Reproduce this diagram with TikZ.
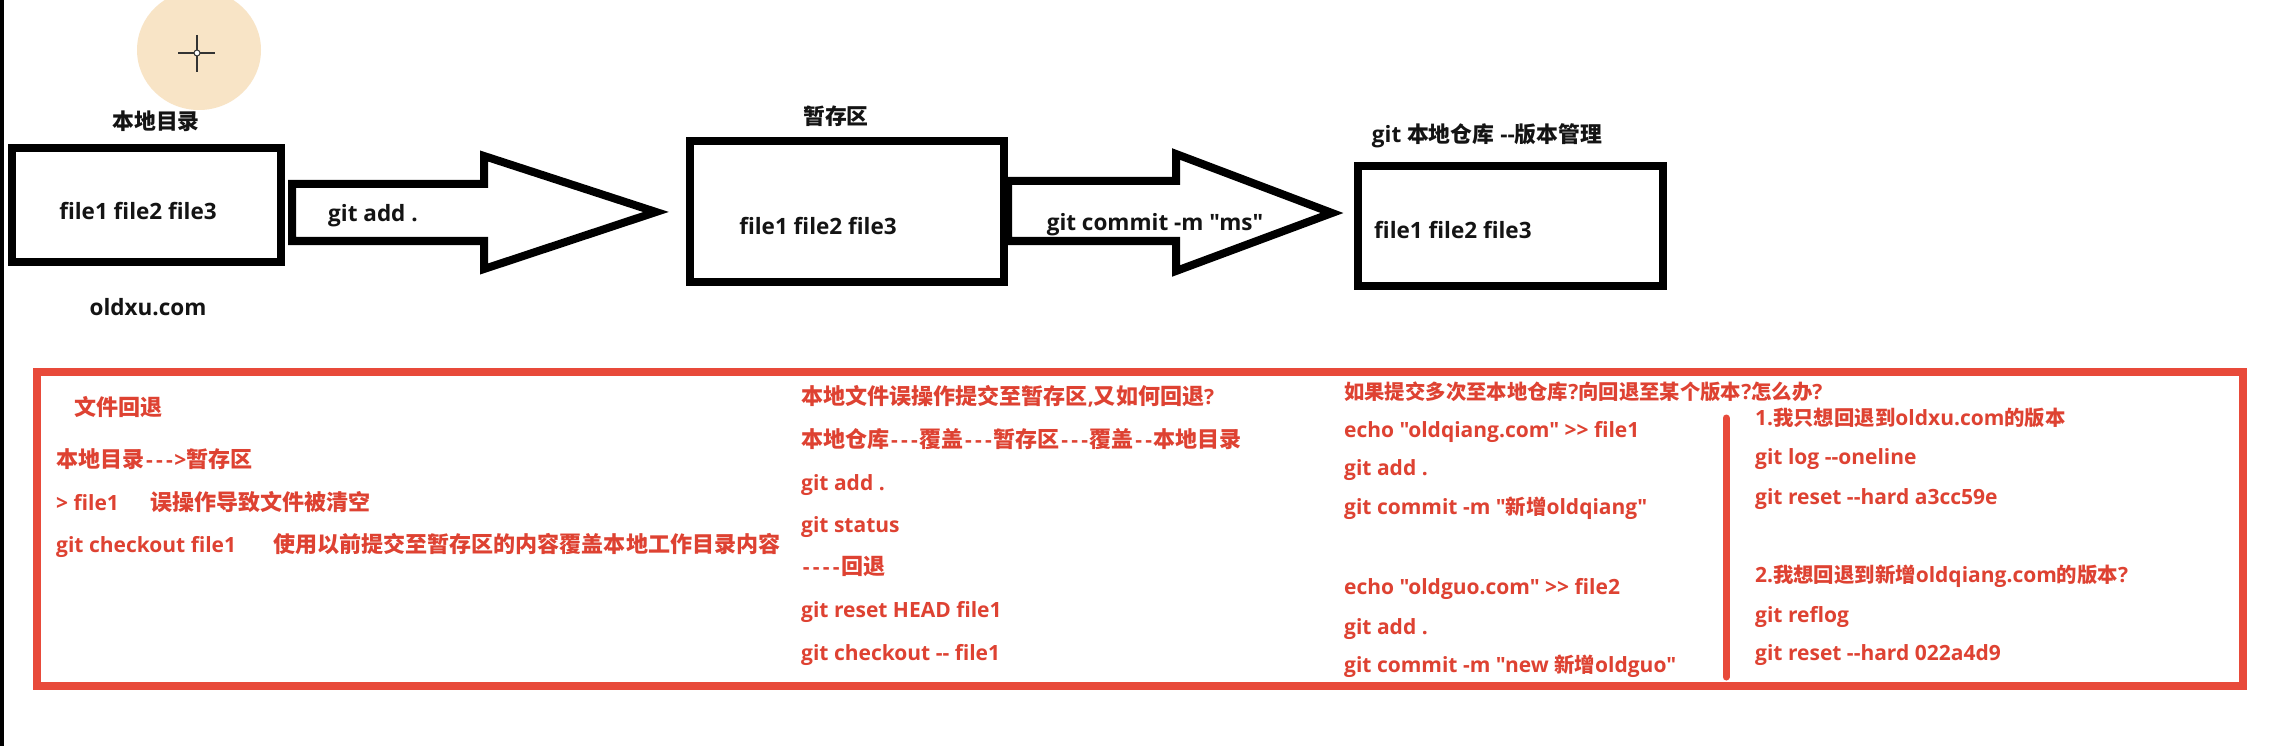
\documentclass[tikz,border=0pt]{standalone}
\usepackage{fontspec}
\setmainfont{Open Sans}[Ligatures=TeXOff]
\newfontfamily\cjk{Noto Sans CJK SC}[Scale=0.97]
\newfontfamily\cjkL{Noto Sans CJK SC}[Scale=1.05]
\newcommand\zh[1]{{\cjk #1}}
\newcommand\zhL[1]{{\cjkL #1}}
\newcommand\hy{\makebox[10pt]{-}}
\definecolor{redframe}{RGB}{232,74,58}
\definecolor{redtext}{RGB}{222,66,50}
\definecolor{cursorbg}{RGB}{248,228,198}
\begin{document}
\begin{tikzpicture}[x=1pt,y=-1pt,
  lbl/.style={anchor=base, inner sep=0, font=\bfseries\fontsize{22.5}{26}\selectfont, text=black!92},
  rtxt/.style={anchor=base west, inner sep=0, font=\bfseries\fontsize{21}{25}\selectfont, text=redtext},
  box/.style={draw=black, line width=8, inner sep=0, fill=white},
  blockarrow/.style={draw=black, line width=8, line join=miter, fill=white}]
\fill[white] (0,0) rectangle (2286,746);
\useasboundingbox (0,0) rectangle (2286,746);
\fill[black] (0,0) rectangle (4,746);
% cursor highlight
\fill[cursorbg] (199,50) ellipse [x radius=62, y radius=60];
\coordinate (cc) at (197,53);
\draw[line width=1.5, black!80] (178,53) -- (215,53) (197,35) -- (197,72);
\draw[line width=1, black!80, fill=white] (cc) circle (3);
% top row
\node[lbl] (l1) at (156,130) {\zh{本地目录}};
\node[box, minimum width=269, minimum height=114] (b1) at (146.5,205) {};
\node[lbl] (f1) at (138,219) {file1 file2 file3};
\node[lbl] (u1) at (148,315) {oldxu.com};
\draw[blockarrow] (292,184) -- (484,184) -- (484,156) -- (656,212) -- (484,269) -- (484,241) -- (292,241) -- cycle;
\node[lbl] (g1) at (373,222) {git add .};
\node[lbl] (l2) at (836,125) {\zh{暂存区}};
\node[box, minimum width=314, minimum height=141] (b2) at (847,211.5) {};
\node[lbl] (f2) at (818,235) {file1 file2 file3};
\draw[blockarrow] (b2.east |- 0,181) -- (1176,181) -- (1176,154) -- (1332,213) -- (1176,271) -- (1176,241) -- (b2.east |- 0,241) -- cycle;
\node[lbl] (g2) at (1155,230) {git commit -m "ms"};
\node[lbl] (l3) at (1487,143) {git \zh{本地仓库} --\zh{版本管理}};
\node[box, minimum width=305, minimum height=120] (b3) at (1510.5,226) {};
\node[lbl, anchor=base west] (f3) at (1374,239) {file1 file2 file3};
% red frame
\node[draw=redframe, line width=8, minimum width=2206, minimum height=314, inner sep=0] (rf) at (1140,529) {};
\coordinate (bt) at (1726,418);
\coordinate (bb) at (1726,677);
\draw[redframe, line width=7, line cap=round] (bt) -- (bb);
% column 1
\node[rtxt] (c1a) at (74,415) {\zhL{文件回退}};
\node[rtxt] (c1b) at (56,467) {\zhL{本地目录}\hy\hy\hy>\zhL{暂存区}};
\node[rtxt] (c1c) at (56,510) {\makebox[94pt][l]{> file1}\zhL{误操作导致文件被清空}};
\node[rtxt] (c1d) at (56,552) {\makebox[217pt][l]{git checkout file1}\zhL{使用以前提交至暂存区的内容覆盖本地工作目录内容}};
% column 2
\node[rtxt] (c2a) at (801,404) {\zhL{本地文件误操作提交至暂存区},\zhL{又如何回退}?};
\node[rtxt] (c2b) at (801,447) {\zhL{本地仓库}\hy\hy\hy\zhL{覆盖}\hy\hy\hy\zhL{暂存区}\hy\hy\hy\zhL{覆盖}\hy\hy\zhL{本地目录}};
\node[rtxt] (c2c) at (801,490) {git add .};
\node[rtxt] (c2d) at (801,532) {git status};
\node[rtxt] (c2e) at (801,574) {\hy\hy\hy\hy\zhL{回退}};
\node[rtxt] (c2f) at (801,617) {git reset HEAD file1};
\node[rtxt] (c2g) at (801,660) {git checkout -- file1};
% column 3
\node[rtxt] (c3a) at (1344,399) {\zh{如果提交多次至本地仓库}?\zh{向回退至某个版本}?\zh{怎么办}?};
\node[rtxt] (c3b) at (1344,437) {echo "oldqiang.com" >> file1};
\node[rtxt] (c3c) at (1344,475) {git add .};
\node[rtxt] (c3d) at (1344,514) {git commit -m "\zh{新增}oldqiang"};
\node[rtxt] (c3e) at (1344,594) {echo "oldguo.com" >> file2};
\node[rtxt] (c3f) at (1344,634) {git add .};
\node[rtxt] (c3g) at (1344,672) {git commit -m "new \zh{新增}oldguo"};
% column 4
\node[rtxt] (c4a) at (1755,425) {1.\zh{我只想回退到}oldxu.com\zh{的版本}};
\node[rtxt] (c4b) at (1755,464) {git log --oneline};
\node[rtxt] (c4c) at (1755,504) {git reset --hard a3cc59e};
\node[rtxt] (c4d) at (1755,582) {2.\zh{我想回退到新增}oldqiang.com\zh{的版本}?};
\node[rtxt] (c4e) at (1755,622) {git reflog};
\node[rtxt] (c4f) at (1755,660) {git reset --hard 022a4d9};
\end{tikzpicture}
\end{document}
